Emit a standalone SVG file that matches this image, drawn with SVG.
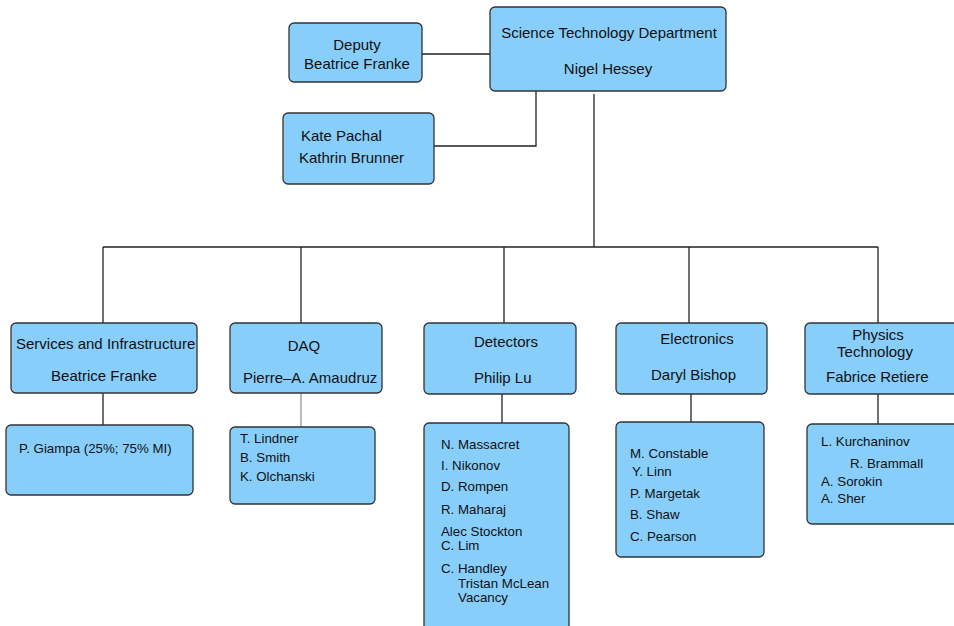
<svg xmlns="http://www.w3.org/2000/svg" width="954" height="626" viewBox="0 0 954 626">
<style>
.box{fill:#87cefa;stroke:#333;stroke-width:1.3}
.t{font-family:"Liberation Sans",Arial,sans-serif;font-size:15px;fill:#111}
.s{font-family:"Liberation Sans",Arial,sans-serif;font-size:13.3px;fill:#111}
.c{text-anchor:middle}
.ln{stroke:#222;stroke-width:1.3;fill:none}
</style>
<rect width="954" height="626" fill="#fff"/>
<g id="connectors">
<path class="ln" d="M422 54H490"/>
<path class="ln" d="M536 91V146H434"/>
<path class="ln" d="M594 94V247"/>
<path class="ln" d="M103 247H878"/>
<path class="ln" d="M103 247V323M301 247V323M504 247V323M689 247V323M878 247V323"/>
<path class="ln" d="M103 393V425"/>
<path class="ln" d="M301 393V427" style="stroke:#777;stroke-width:1"/>
<path class="ln" d="M502 394V423"/>
<path class="ln" d="M691 394V422"/>
<path class="ln" d="M878 394V424"/>
</g>
<g id="std">
<rect class="box" x="490" y="7" width="236" height="84" rx="5"/>
<text class="t c" x="609" y="38">Science Technology Department</text>
<text class="t c" x="608" y="74">Nigel Hessey</text>
</g>
<g id="deputy">
<rect class="box" x="289" y="23" width="133" height="59" rx="5"/>
<text class="t c" x="357" y="50">Deputy</text>
<text class="t c" x="357" y="69">Beatrice Franke</text>
</g>
<g id="admin">
<rect class="box" x="283" y="113" width="151" height="71" rx="5"/>
<text class="t" x="301" y="141">Kate Pachal</text>
<text class="t" x="299" y="163">Kathrin Brunner</text>
</g>
<g id="services">
<rect class="box" x="11" y="323" width="186" height="70" rx="5"/>
<text class="t" x="16" y="349">Services and Infrastructure</text>
<text class="t c" x="104" y="381">Beatrice Franke</text>
</g>
<g id="daq">
<rect class="box" x="230" y="323" width="152" height="70" rx="5"/>
<text class="t c" x="304" y="351">DAQ</text>
<text class="t" x="243" y="383">Pierre–A. Amaudruz</text>
</g>
<g id="detectors">
<rect class="box" x="424" y="323" width="152" height="71" rx="5"/>
<text class="t c" x="506" y="347">Detectors</text>
<text class="t" x="474" y="383">Philip Lu</text>
</g>
<g id="electronics">
<rect class="box" x="616" y="323" width="151" height="71" rx="5"/>
<text class="t c" x="697" y="344">Electronics</text>
<text class="t" x="651" y="380">Daryl Bishop</text>
</g>
<g id="physics">
<rect class="box" x="805" y="323" width="155" height="71" rx="5"/>
<text class="t c" x="878" y="340">Physics</text>
<text class="t c" x="875" y="357">Technology</text>
<text class="t" x="826" y="382">Fabrice Retiere</text>
</g>
<g id="services-staff">
<rect class="box" x="6" y="425" width="187" height="70" rx="5"/>
<text class="s" x="19" y="453">P. Giampa (25%; 75% MI)</text>
</g>
<g id="daq-staff">
<rect class="box" x="230" y="427" width="145" height="77" rx="5"/>
<text class="s" x="240" y="443">T. Lindner</text>
<text class="s" x="240" y="462">B. Smith</text>
<text class="s" x="240" y="481">K. Olchanski</text>
</g>
<g id="detectors-staff">
<rect class="box" x="424" y="423" width="145" height="210" rx="5"/>
<text class="s" x="441" y="449">N. Massacret</text>
<text class="s" x="441" y="470">I. Nikonov</text>
<text class="s" x="441" y="491">D. Rompen</text>
<text class="s" x="441" y="514">R. Maharaj</text>
<text class="s" x="441" y="536">Alec Stockton</text>
<text class="s" x="441" y="550">C. Lim</text>
<text class="s" x="441" y="573">C. Handley</text>
<text class="s" x="458" y="588">Tristan McLean</text>
<text class="s" x="458" y="602">Vacancy</text>
</g>
<g id="electronics-staff">
<rect class="box" x="616" y="422" width="148" height="135" rx="5"/>
<text class="s" x="630" y="458">M. Constable</text>
<text class="s" x="632" y="476">Y. Linn</text>
<text class="s" x="630" y="498">P. Margetak</text>
<text class="s" x="630" y="519">B. Shaw</text>
<text class="s" x="630" y="541">C. Pearson</text>
</g>
<g id="physics-staff">
<rect class="box" x="807" y="424" width="155" height="100" rx="5"/>
<text class="s" x="821" y="446">L. Kurchaninov</text>
<text class="s" x="850" y="468">R. Brammall</text>
<text class="s" x="821" y="486">A. Sorokin</text>
<text class="s" x="821" y="503">A. Sher</text>
</g>
</svg>
